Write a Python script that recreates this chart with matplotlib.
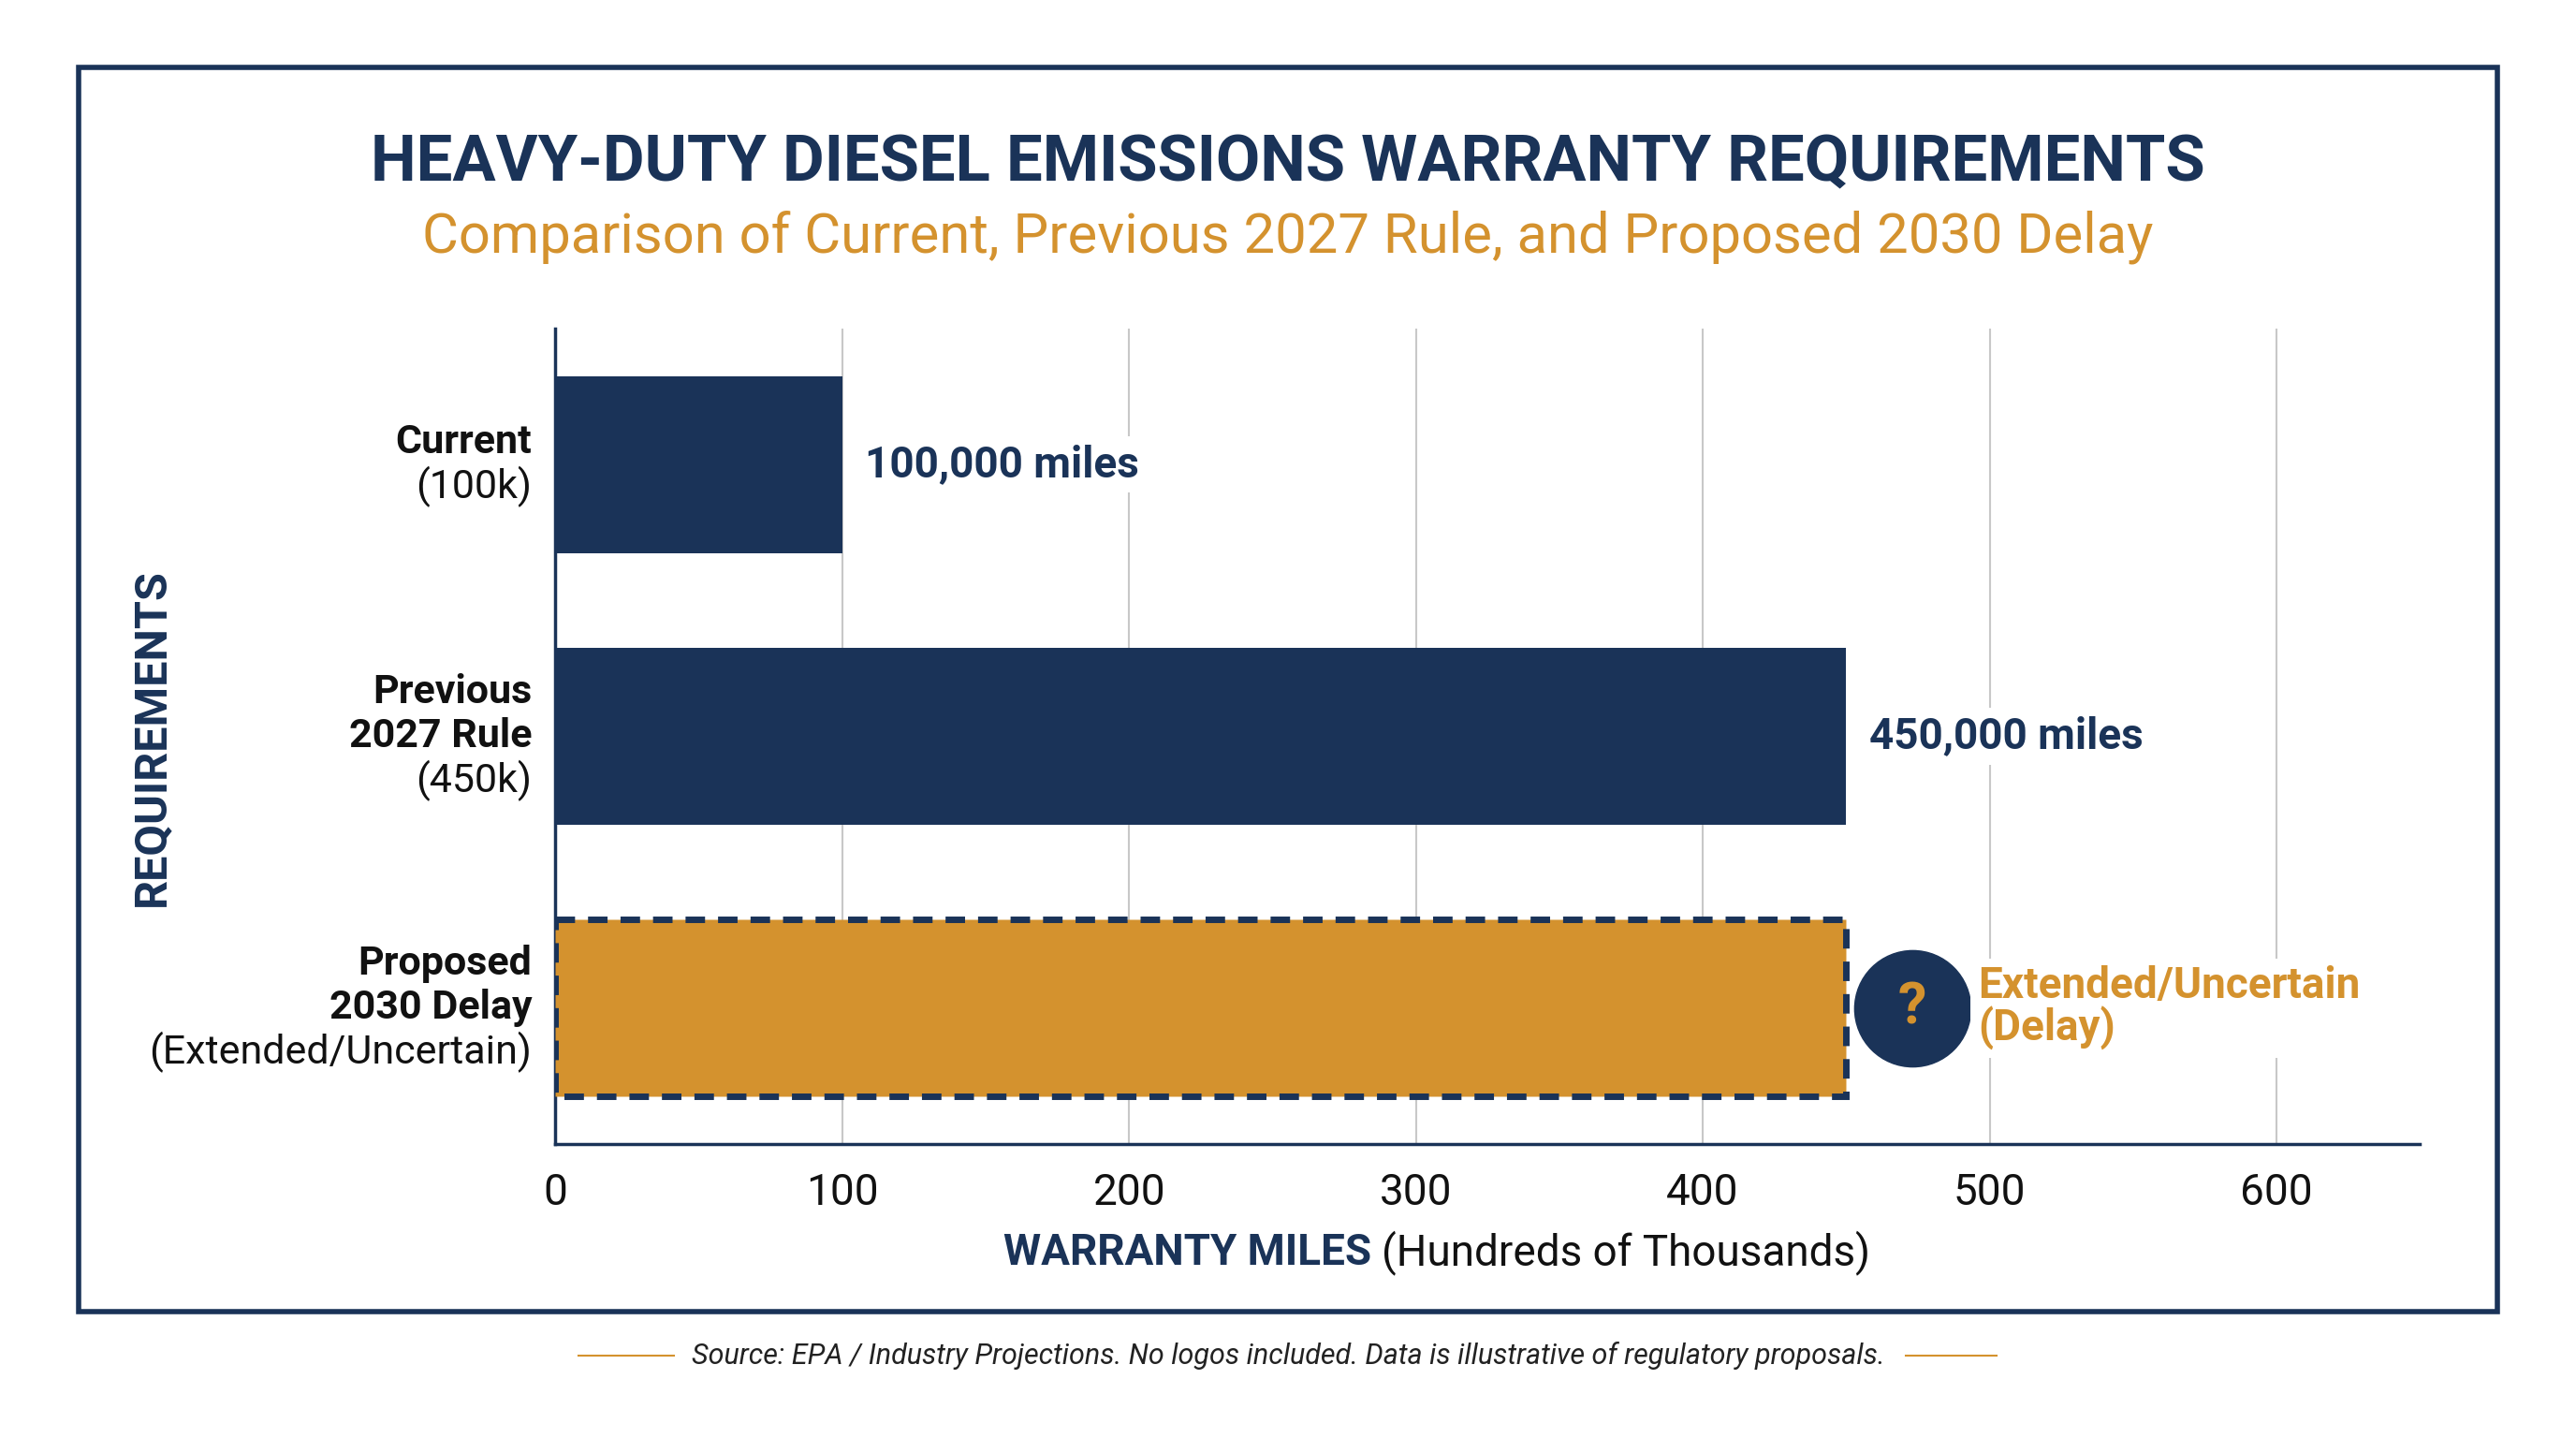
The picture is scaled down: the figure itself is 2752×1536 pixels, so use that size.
import matplotlib
matplotlib.use("Agg")
import matplotlib.pyplot as plt
from matplotlib.patches import Rectangle

plt.rcParams['font.family'] = ['Roboto', 'DejaVu Sans']

categories_bold = [["Current"], ["Previous", "2027 Rule"], ["Proposed", "2030 Delay"]]
categories_sub = ["(100k)", "(450k)", "(Extended/Uncertain)"]
values = [100, 450, 450]
value_labels = ["100,000 miles", "450,000 miles", "Extended/Uncertain\n(Delay)"]
xticks = [0, 100, 200, 300, 400, 500, 600]

NAVY = "#1a3358"
GOLD = "#d4922e"

fig = plt.figure(figsize=(27.52, 15.36), dpi=100)
fig.patch.set_facecolor("white")
fig.add_artist(Rectangle((0.0306, 0.088), 0.9388, 0.865, transform=fig.transFigure,
                         fill=False, edgecolor=NAVY, linewidth=4))

ax = fig.add_axes([0.2156, 0.2046, 0.7238, 0.5668])
ax.set_xlim(0, 650)
ax.set_ylim(2.5, -0.5)
ax.set_xticks(xticks)
ax.tick_params(axis='x', length=0, labelsize=33, pad=22, colors="#111111")
ax.tick_params(axis='y', length=0, labelleft=False)
for s in ["top", "right"]:
    ax.spines[s].set_visible(False)
for s in ["left", "bottom"]:
    ax.spines[s].set_color(NAVY)
    ax.spines[s].set_linewidth(2.5)
ax.grid(axis='x', color="#c8c8c8", linewidth=1.5)
ax.set_axisbelow(True)

LS = 34  # line spacing in points
for i, v in enumerate(values):
    if i < 2:
        ax.barh(i, v, height=0.65, color=NAVY, zorder=3)
        ax.text(v + 8, i, value_labels[i], va='center', ha='left', fontsize=33,
                fontweight='bold', color=NAVY, zorder=4,
                bbox=dict(facecolor='white', edgecolor='none', pad=6))
    else:
        ax.barh(i, v, height=0.65, color=GOLD, edgecolor=NAVY, linewidth=5,
                linestyle=(0, (3, 2)), zorder=3)
        ax.scatter([473], [i], s=8000, color=NAVY, zorder=4)
        ax.text(473, i, "?", ha='center', va='center', fontsize=44, fontweight='bold',
                color=GOLD, zorder=5)
        ax.text(496, i, value_labels[i], va='center', ha='left', fontsize=33,
                fontweight='bold', color=GOLD, zorder=4, linespacing=1.0,
                bbox=dict(facecolor='white', edgecolor='none', pad=6))

    lines = [(t, 'bold') for t in categories_bold[i]] + [(categories_sub[i], 'normal')]
    n = len(lines)
    for k, (t, w) in enumerate(lines):
        off = ((n - 1) / 2 - k) * LS
        ax.annotate(t, xy=(0, i), xytext=(-18, off), textcoords='offset points',
                    ha='right', va='center', fontsize=31, fontweight=w, color="#111111")

fig.text(0.059, 0.4875, "REQUIREMENTS", rotation=90, ha='center', va='center',
         fontsize=35, fontweight='bold', color=NAVY)
fig.text(0.5325, 0.129, "WARRANTY MILES", ha='right', va='center', fontsize=33,
         fontweight='bold', color=NAVY)
fig.text(0.5365, 0.129, "(Hundreds of Thousands)", ha='left', va='center', fontsize=33,
         color="#111111")

fig.text(0.5, 0.886, "HEAVY-DUTY DIESEL EMISSIONS WARRANTY REQUIREMENTS", ha='center',
         va='center', fontsize=49.5, fontweight='bold', color=NAVY)
fig.text(0.5, 0.835, "Comparison of Current, Previous 2027 Rule, and Proposed 2030 Delay",
         ha='center', va='center', fontsize=43, color=GOLD)

fig.text(0.5, 0.057, "Source: EPA / Industry Projections. No logos included. Data is illustrative of regulatory proposals.",
         ha='center', va='center', fontsize=22, style='italic', color="#222222")
fig.add_artist(plt.Line2D([0.2245, 0.2615], [0.057, 0.057], transform=fig.transFigure,
                          color=GOLD, linewidth=1.5))
fig.add_artist(plt.Line2D([0.740, 0.775], [0.057, 0.057], transform=fig.transFigure,
                          color=GOLD, linewidth=1.5))

fig.savefig("out.png", dpi=100)
